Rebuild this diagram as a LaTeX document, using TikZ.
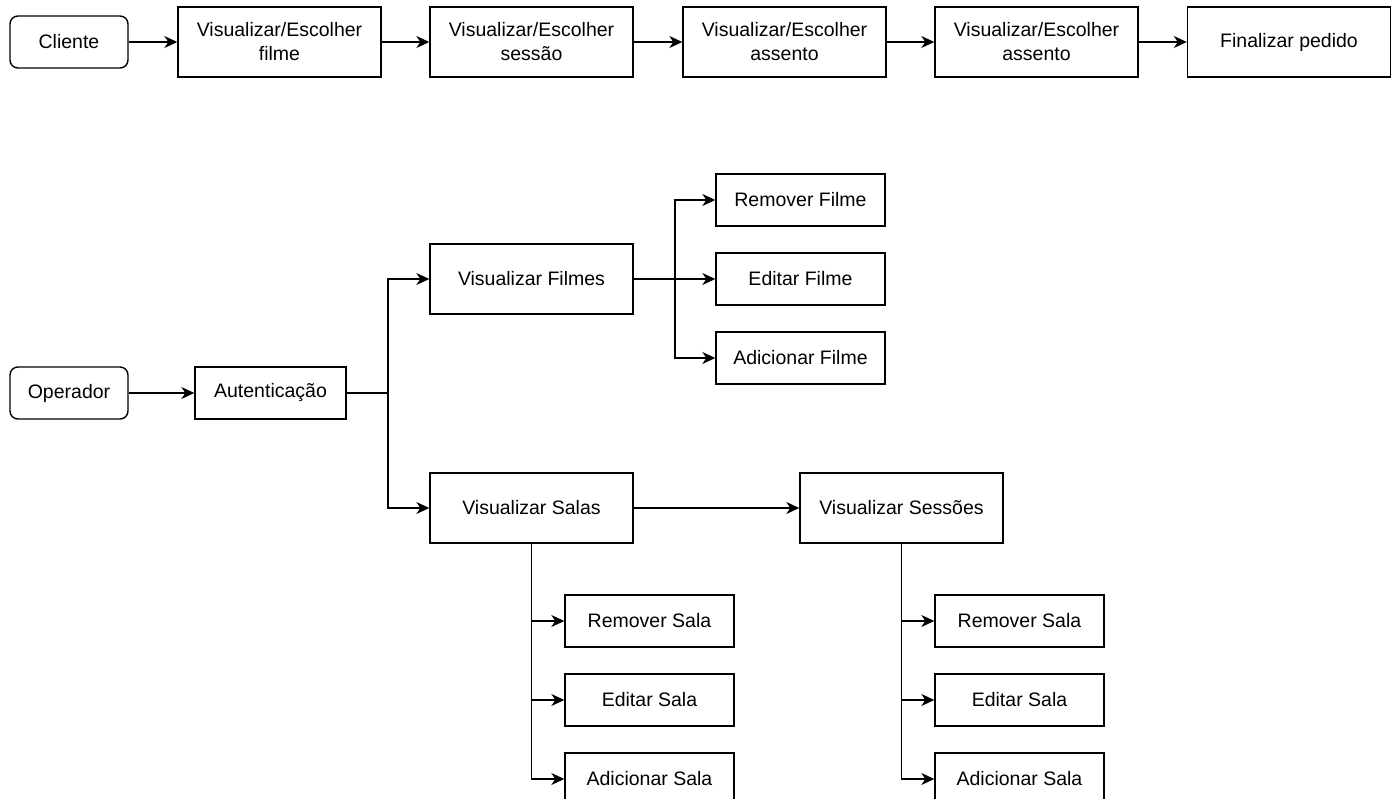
\documentclass[tikz,border=0pt]{standalone}
\usepackage{fontspec}
\setmainfont{Liberation Sans}
\usetikzlibrary{arrows.meta}
\usetikzlibrary{calc}

\begin{document}
\begin{tikzpicture}[x=1pt, y=-1pt, >={Stealth[length=13pt, width=12pt, inset=4pt]}, line width=1.4pt,
                    caixa/.style={draw, align=center, inner sep=0pt, minimum width=203pt, minimum height=70pt, font=\fontsize{19.5}{24}\selectfont},
                    opcao/.style={draw, align=center, inner sep=0pt, minimum width=169pt, minimum height=52pt, font=\fontsize{19.5}{24}\selectfont},
                    ator/.style={draw, rounded corners=8pt, inner sep=0pt, minimum width=118pt, minimum height=52pt, font=\fontsize{19.5}{24}\selectfont}]
                      \useasboundingbox (0,0) rectangle (1394,799);

                      % fluxo do cliente
                      \node[ator] (cliente) at (69, 42) {Cliente};
                      \node[caixa] (filme) at (279.5, 42) {Visualizar/Escolher\\filme};
                      \node[caixa] (sessao) at (531.5, 42) {Visualizar/Escolher\\sessão};
                      \node[caixa] (assentoA) at (784.5, 42) {Visualizar/Escolher\\assento};
                      \node[caixa] (assentoB) at (1036.5, 42) {Visualizar/Escolher\\assento};
                      \node[caixa] (pedido) at (1289, 42) {Finalizar pedido};
                      \draw[->] (cliente) -- (filme);
                      \draw[->] (filme) -- (sessao);
                      \draw[->] (sessao) -- (assentoA);
                      \draw[->] (assentoA) -- (assentoB);
                      \draw[->] (assentoB) -- (pedido);

                      % fluxo do operador
                      \node[ator] (operador) at (69, 393) {Operador};
                      \node[opcao, minimum width=151pt] (auth) at (270.5, 393) {Autenticação};
                      \node[caixa] (filmes) at (531.5, 279) {Visualizar Filmes};
                      \node[caixa] (salas) at (531.5, 508) {Visualizar Salas};
                      \node[caixa] (sessoes) at (901.5, 508) {Visualizar Sessões};
                      \coordinate (jAuth) at (388, 393);
                      \coordinate (jFilmes) at (675, 279);
                      \draw[->] (operador) -- (auth);
                      \draw (auth) -- (jAuth);
                      \draw[->] (jAuth) |- (filmes);
                      \draw[->] (jAuth) |- (salas);
                      \draw[->] (salas) -- (sessoes);

                      % opcoes de filmes
                      \node[opcao] (remFilme) at (800.5, 200) {Remover Filme};
                      \node[opcao] (editFilme) at (800.5, 279) {Editar Filme};
                      \node[opcao] (addFilme) at (800.5, 358) {Adicionar Filme};
                      \draw[->] (filmes) -- (editFilme);
                      \draw[->] (jFilmes) |- (remFilme);
                      \draw[->] (jFilmes) |- (addFilme);

                      % opcoes de salas
                      \node[opcao] (remSala) at (649.5, 621) {Remover Sala};
                      \node[opcao] (editSala) at (649.5, 700) {Editar Sala};
                      \node[opcao] (addSala) at (649.5, 779) {Adicionar Sala};
                      \draw[->] (salas.south) |- (remSala);
                      \draw[->] (salas.south) |- (editSala);
                      \draw[->] (salas.south) |- (addSala);

                      % opcoes de sessoes
                      \node[opcao] (remSessao) at (1019.5, 621) {Remover Sala};
                      \node[opcao] (editSessao) at (1019.5, 700) {Editar Sala};
                      \node[opcao] (addSessao) at (1019.5, 779) {Adicionar Sala};
                      \draw[->] (sessoes.south) |- (remSessao);
                      \draw[->] (sessoes.south) |- (editSessao);
                      \draw[->] (sessoes.south) |- (addSessao);
                    \end{tikzpicture}
\end{document}
